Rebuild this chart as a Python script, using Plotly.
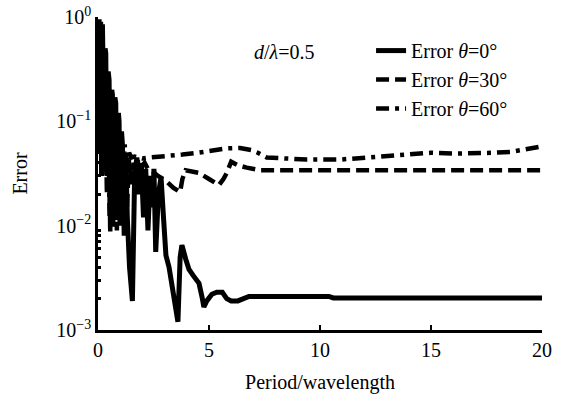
import plotly.graph_objects as go

# Period/wavelength values and errors
x0 = [0.05, 0.08, 0.12, 0.16, 0.2, 0.24, 0.28, 0.32, 0.35, 0.39, 0.42, 0.46, 0.5, 0.54, 0.58, 0.62, 0.65,
      0.69, 0.72, 0.76, 0.8, 0.84, 0.88, 0.92, 0.95, 0.99, 1.02, 1.06, 1.1,
      1.18, 1.25, 1.32, 1.42, 1.55, 1.65, 1.75, 1.85, 1.95, 2.05, 2.15, 2.25, 2.35, 2.45, 2.52,
      2.6, 2.72, 2.84, 2.95, 3.06, 3.2, 3.33, 3.45, 3.6, 3.7, 3.78, 3.95, 4.1, 4.3, 4.55,
      4.7, 4.77, 4.9, 5.13, 5.35, 5.6, 5.8, 6.0, 6.3, 6.6, 6.8, 7.5, 8.5, 9.5, 10.4,
      10.6, 12, 14, 16, 18, 20]
y0 = [0.95, 0.05, 0.9, 0.03, 0.85, 0.1, 0.06, 0.5, 0.45, 0.04, 0.03, 0.3, 0.25, 0.02, 0.02, 0.2, 0.18,
      0.015, 0.012, 0.17, 0.15, 0.012, 0.02, 0.12, 0.1, 0.01, 0.015, 0.08, 0.06,
      0.008, 0.05, 0.012, 0.004, 0.0019, 0.03, 0.045, 0.02, 0.04, 0.012, 0.035, 0.009, 0.03, 0.015, 0.035,
      0.0056, 0.02, 0.029, 0.012, 0.0052, 0.004, 0.0028, 0.002, 0.0012, 0.005, 0.0065, 0.0048, 0.0038, 0.0033, 0.0028,
      0.002, 0.00166, 0.0019, 0.0022, 0.0023, 0.0023, 0.0020, 0.0019, 0.0019, 0.0020, 0.0021, 0.0021, 0.0021, 0.0021, 0.0021,
      0.00203, 0.00203, 0.00203, 0.00203, 0.00203, 0.00203]

x30 = [0.05, 0.1, 0.18, 0.25, 0.32, 0.4, 0.48, 0.55, 0.62, 0.7, 0.78, 0.85, 0.92, 1.0, 1.08,
       1.15, 1.22, 1.3, 1.4, 1.5, 1.6, 1.7, 1.8, 1.95, 2.1, 2.25, 2.4, 2.7, 3.05, 3.4,
       3.7, 3.8, 3.95, 4.2, 4.55, 5.0, 5.45, 5.65, 5.8, 6.0, 6.3, 6.7, 7.3, 8, 10,
       12, 14, 16, 18, 20]
y30 = [0.8, 0.1, 0.6, 0.05, 0.3, 0.02, 0.2, 0.0085, 0.15, 0.012, 0.12, 0.009, 0.08, 0.015, 0.06,
       0.02, 0.05, 0.014, 0.045, 0.025, 0.04, 0.03, 0.042, 0.036, 0.04, 0.035, 0.034, 0.03, 0.027, 0.023,
       0.021, 0.028, 0.034, 0.033, 0.032, 0.028, 0.0245, 0.028, 0.032, 0.041, 0.038, 0.036, 0.034, 0.034, 0.034,
       0.034, 0.034, 0.034, 0.034, 0.034]

x60 = [0.05, 0.1, 0.15, 0.22, 0.3, 0.38, 0.45, 0.52, 0.6, 0.68, 0.75, 0.82, 0.9, 0.98, 1.05,
       1.12, 1.2, 1.3, 1.4, 1.5, 1.65, 1.8, 2.0, 2.3, 2.8, 3.2, 3.8, 4.5, 5.3, 5.8,
       6.4, 6.9, 7.2, 7.6, 8.5, 9.4, 10.9, 12.3, 13.8, 15.0, 16.0, 16.9, 17.8, 18.6, 19.3, 19.9]
y60 = [0.7, 0.15, 0.5, 0.04, 0.35, 0.03, 0.18, 0.012, 0.16, 0.0095, 0.1, 0.015, 0.09, 0.02, 0.07,
       0.025, 0.06, 0.035, 0.05, 0.045, 0.046, 0.045, 0.044, 0.045, 0.046, 0.046, 0.048, 0.050, 0.053, 0.055,
       0.0556, 0.053, 0.050, 0.045, 0.044, 0.043, 0.043, 0.045, 0.047, 0.050, 0.049, 0.049, 0.050, 0.051, 0.054, 0.057]

series_names = ["Error <i>θ</i>=0°", "Error <i>θ</i>=30°", "Error <i>θ</i>=60°"]

x_ticks = [0, 5, 10, 15, 20]
y_ticks = [0.001, 0.01, 0.1, 1]
y_tick_text = ["10<sup>−3</sup>", "10<sup>−2</sup>", "10<sup>−1</sup>", "10<sup>0</sup>"]
y_minor = [m * 10 ** e for e in (-3, -2, -1) for m in range(2, 10)]

FONT = "Liberation Serif"

fig = go.Figure()
fig.add_trace(go.Scatter(x=x0, y=y0, mode="lines", name=series_names[0],
                         line=dict(color="black", width=5, dash="solid")))
fig.add_trace(go.Scatter(x=x30, y=y30, mode="lines", name=series_names[1],
                         line=dict(color="black", width=4.5, dash="13px,6px")))
fig.add_trace(go.Scatter(x=x60, y=y60, mode="lines", name=series_names[2],
                         line=dict(color="black", width=4.5, dash="13px,6px,4px,6px")))

fig.add_annotation(x=0.42, y=0.888, xref="paper", yref="paper",
                   xanchor="center", yanchor="middle",
                   text="<i>d</i>/<i>λ</i>=0.5", showarrow=False,
                   font=dict(family=FONT, size=20, color="black"))

fig.update_layout(
    width=574, height=400,
    margin=dict(l=98, r=32, t=17, b=70),
    paper_bgcolor="white", plot_bgcolor="white",
    font=dict(family=FONT, size=20, color="black"),
    showlegend=True,
    legend=dict(x=0.615, y=0.955, xanchor="left", yanchor="top",
                bgcolor="rgba(0,0,0,0)", font=dict(family=FONT, size=20),
                tracegroupgap=0),
    xaxis=dict(range=[0, 20], tickvals=x_ticks, ticks="inside", ticklen=5, tickwidth=2,
               tickcolor="black", showline=True, linecolor="black", linewidth=2.5,
               showgrid=False, zeroline=False, mirror=False, automargin=False,
               tickfont=dict(family=FONT, size=20),
               title=dict(text="Period/wavelength", font=dict(family=FONT, size=20), standoff=16)),
    yaxis=dict(type="log", range=[-3, 0], tickmode="array", tickvals=y_ticks, ticktext=y_tick_text,
               ticks="", showline=True, linecolor="black", linewidth=2.5,
               showgrid=False, zeroline=False, automargin=False,
               tickfont=dict(family=FONT, size=20),
               minor=dict(tickmode="array", tickvals=y_minor, ticks="inside", ticklen=3,
                          tickwidth=2.5, tickcolor="black", showgrid=False),
               title=dict(text="Error", font=dict(family=FONT, size=20), standoff=24)),
)

fig.write_html("out.html")
